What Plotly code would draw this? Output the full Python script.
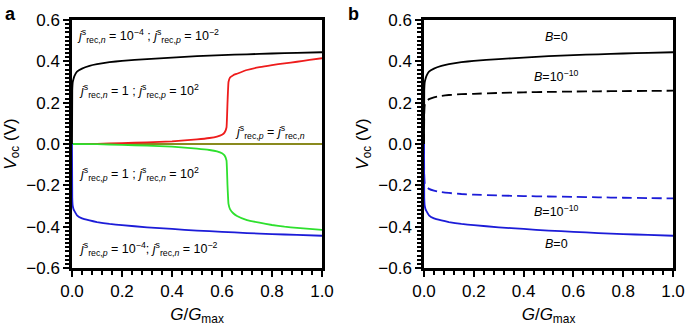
import plotly.graph_objects as go

# ---------------- data ----------------
x_log = [0, 0.001, 0.003, 0.006, 0.01, 0.02, 0.04, 0.07, 0.1, 0.15, 0.2, 0.3, 0.4, 0.5, 0.6, 0.7, 0.8, 0.9, 1.0]
black_B0 = [0, 0.26, 0.30, 0.315, 0.33, 0.35, 0.365, 0.378, 0.386, 0.396, 0.402, 0.411, 0.418, 0.425, 0.43, 0.434, 0.438, 0.441, 0.444]
blue_B0 = [0, -0.26, -0.30, -0.315, -0.325, -0.345, -0.36, -0.37, -0.378, -0.387, -0.393, -0.403, -0.411, -0.419, -0.425, -0.431, -0.436, -0.440, -0.444]
black_B10 = [0, 0.15, 0.19, 0.20, 0.207, 0.217, 0.226, 0.233, 0.237, 0.241, 0.243, 0.247, 0.25, 0.252, 0.254, 0.255, 0.256, 0.257, 0.258]
blue_B10 = [0, -0.15, -0.19, -0.20, -0.207, -0.217, -0.226, -0.233, -0.237, -0.242, -0.245, -0.249, -0.252, -0.254, -0.256, -0.258, -0.26, -0.262, -0.263]

x_sw = [0, 0.1, 0.2, 0.3, 0.4, 0.5, 0.55, 0.58, 0.6, 0.61, 0.618, 0.622, 0.626, 0.632, 0.645, 0.66, 0.7, 0.75, 0.8, 0.85, 0.9, 0.95, 1.0]
red = [0, 0.001, 0.004, 0.008, 0.013, 0.022, 0.029, 0.036, 0.045, 0.055, 0.08, 0.2, 0.30, 0.322, 0.333, 0.34, 0.358, 0.372, 0.382, 0.39, 0.398, 0.407, 0.415]
green = [0, -0.001, -0.004, -0.008, -0.013, -0.022, -0.029, -0.036, -0.045, -0.055, -0.08, -0.2, -0.29, -0.315, -0.335, -0.348, -0.368, -0.381, -0.392, -0.400, -0.406, -0.411, -0.416]

x_flat = [0, 1.0]
olive = [0, 0]

x_ticks = [0.0, 0.2, 0.4, 0.6, 0.8, 1.0]
x_ticklabels = ["0.0", "0.2", "0.4", "0.6", "0.8", "1.0"]
y_ticks = [-0.6, -0.4, -0.2, 0.0, 0.2, 0.4, 0.6]
y_ticklabels = ["\u22120.6", "\u22120.4", "\u22120.2", "0.0", "0.2", "0.4", "0.6"]

def J(sub):
    return "<i>j</i><sup>s</sup><sub>rec,<i>%s</i></sub>" % sub

labels_a = [
    (J("n") + " = 10<sup>\u22124</sup> ; " + J("p") + " = 10<sup>\u22122</sup>", 0.012, 0.522),
    (J("n") + " = 1 ; " + J("p") + " = 10<sup>2</sup>", 0.02, 0.256),
    (J("p") + " = " + J("n"), 0.644, 0.058),
    (J("p") + " = 1 ; " + J("n") + " = 10<sup>2</sup>", 0.02, -0.145),
    (J("p") + " = 10<sup>\u22124</sup>; " + J("n") + " = 10<sup>\u22122</sup>", 0.02, -0.508),
]
labels_b = [
    ("<i>B</i>=0", 0.534, 0.518),
    ("<i>B</i>=10<sup>\u221210</sup>", 0.534, 0.329),
    ("<i>B</i>=10<sup>\u221210</sup>", 0.534, -0.324),
    ("<i>B</i>=0", 0.534, -0.484),
]

# ---------------- figure ----------------
FONT = "Liberation Sans, Arial, sans-serif"
fig = go.Figure()

C_BLACK = "#000000"
C_RED = "#ee1c1c"
C_GREEN = "#2ee02e"
C_BLUE = "#1c1cd8"
C_OLIVE = "#8a8a1e"

def line(x, y, color, xa, ya, dash="solid", w=1.8):
    fig.add_trace(go.Scatter(x=x, y=y, mode="lines", xaxis=xa, yaxis=ya,
                             line=dict(color=color, width=w, dash=dash, shape="spline", smoothing=0.3),
                             showlegend=False, hoverinfo="skip"))

# panel a
line(x_flat, olive, C_OLIVE, "x", "y")
line(x_sw, red, C_RED, "x", "y")
line(x_sw, green, C_GREEN, "x", "y")
line(x_log, black_B0, C_BLACK, "x", "y")
line(x_log, blue_B0, C_BLUE, "x", "y")
# panel b
line(x_log, black_B0, C_BLACK, "x2", "y2")
line(x_log, black_B10, C_BLACK, "x2", "y2", dash="10px,5px")
line(x_log, blue_B10, C_BLUE, "x2", "y2", dash="10px,5px")
line(x_log, blue_B0, C_BLUE, "x2", "y2")

W, H = 685, 334
def px_x(p):
    return p / W
def px_y(p):
    return 1 - p / H

ax_common = dict(showgrid=False, zeroline=False, showline=True, linecolor="black", linewidth=2.5,
                 mirror=True, ticks="outside", tickwidth=2, tickcolor="black", automargin=False,
                 tickfont=dict(family=FONT, size=17, color="black"))

xax = dict(ax_common, range=[0, 1.0], tickvals=x_ticks, ticktext=x_ticklabels, ticklen=6,
           minor=dict(dtick=0.04, tick0=0, ticks="outside", ticklen=4, tickwidth=2, tickcolor="black"),
           title=dict(text="<i>G</i>/<i>G</i><sub>max</sub>", font=dict(family=FONT, size=17, color="black"),
                      standoff=8))
yax = dict(ax_common, range=[-0.6, 0.6], tickvals=y_ticks, ticktext=y_ticklabels, ticklen=6,
           minor=dict(dtick=0.02, tick0=0, ticks="outside", ticklen=4, tickwidth=2, tickcolor="black"),
           title=dict(text="<i>V</i><sub>oc</sub> (V)", font=dict(family=FONT, size=17, color="black"),
                      standoff=6))

fig.update_layout(
    width=W, height=H,
    margin=dict(l=0, r=0, t=0, b=0),
    paper_bgcolor="white", plot_bgcolor="white",
    font=dict(family=FONT, color="black"),
    xaxis=dict(xax, domain=[px_x(72), px_x(322)], anchor="y"),
    yaxis=dict(yax, domain=[px_y(268), px_y(20)], anchor="x"),
    xaxis2=dict(xax, domain=[px_x(424), px_x(673)], anchor="y2"),
    yaxis2=dict(yax, domain=[px_y(268), px_y(20)], anchor="x2"),
)

for txt, x, y in labels_a:
    fig.add_annotation(text=txt, x=x, y=y, xref="x", yref="y", xanchor="left", yanchor="middle",
                       showarrow=False, font=dict(family=FONT, size=12.5, color="black"))
for txt, x, y in labels_b:
    fig.add_annotation(text=txt, x=x, y=y, xref="x2", yref="y2", xanchor="center", yanchor="middle",
                       showarrow=False, font=dict(family=FONT, size=12.5, color="black"))

fig.add_annotation(text="<b>a</b>", x=px_x(3), y=px_y(2), xref="paper", yref="paper",
                   xanchor="left", yanchor="top", showarrow=False,
                   font=dict(family=FONT, size=18, color="black"))
fig.add_annotation(text="<b>b</b>", x=px_x(346), y=px_y(2), xref="paper", yref="paper",
                   xanchor="left", yanchor="top", showarrow=False,
                   font=dict(family=FONT, size=18, color="black"))

fig.write_html("out.html", config={"displayModeBar": False},
               post_script="document.body.style.margin='0';document.body.style.padding='0';document.body.style.overflow='hidden';")
